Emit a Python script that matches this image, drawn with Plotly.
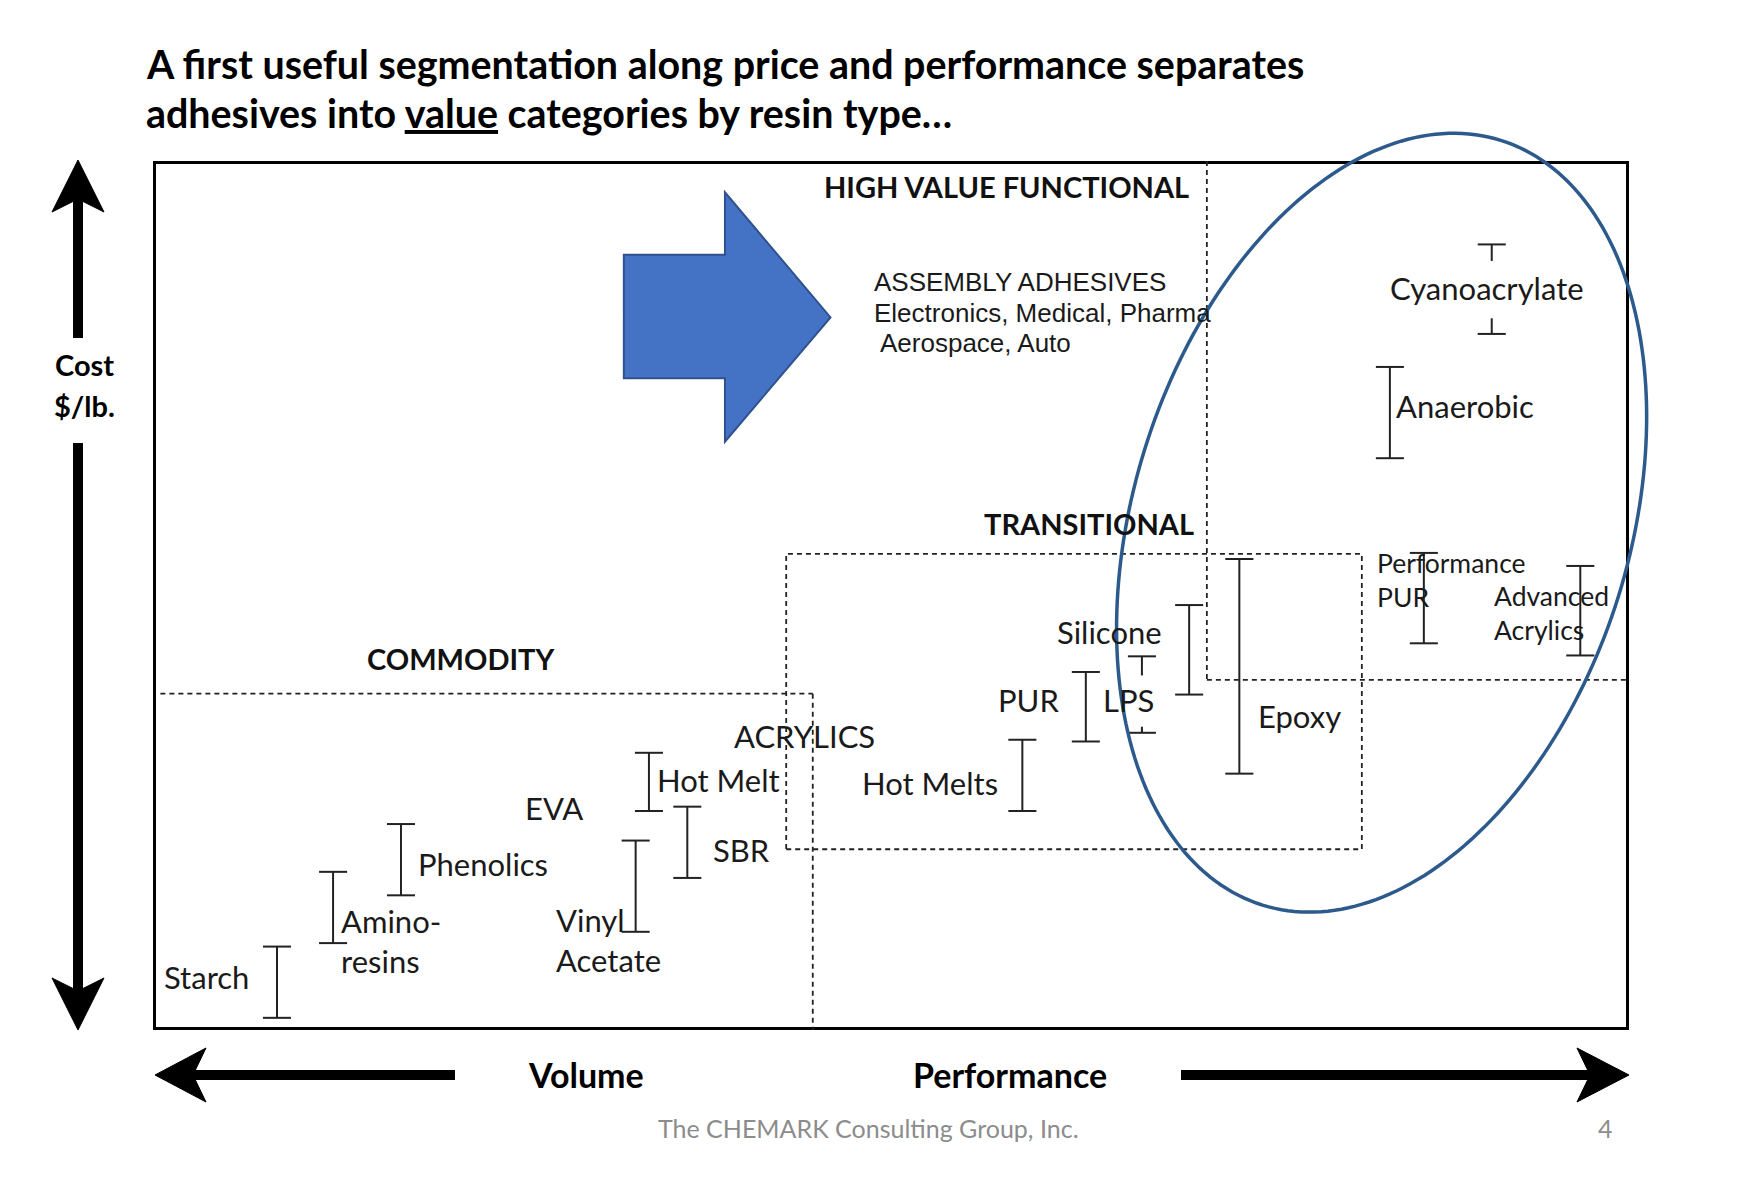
import numpy as np
import plotly.graph_objects as go

W, H = 1740, 1182
OFF = 8  # page body margin in the browser

# ---------------- data (x: performance position 0-100 across the frame, y: cost index 0-100) ----
resins = ["Starch", "Amino-resins", "Phenolics", "Vinyl Acetate", "Hot Melt", "SBR",
          "Hot Melts", "PUR", "LPS", "Silicone", "Epoxy", "Performance PUR",
          "Advanced Acrylics", "Anaerobic", "Cyanoacrylate"]
performance = [8.4, 12.2, 16.8, 32.7, 33.6, 36.2, 58.9, 63.2, 67.0, 70.2, 73.6, 86.1, 96.7, 83.8, 90.7]
cost_low = [1.4, 10.0, 15.5, 11.3, 25.2, 17.5, 25.2, 33.2, 34.2, 38.6, 29.5, 44.5, 43.1, 65.8, 80.1]
cost_high = [9.6, 18.2, 23.7, 21.8, 31.9, 25.7, 33.4, 41.2, 43.0, 48.9, 54.2, 54.9, 53.4, 76.3, 90.4]
# bars whose stem is interrupted by their label (cost range of the gap)
bar_gaps = {"LPS": (34.9, 40.8), "Cyanoacrylate": (81.9, 88.5)}

# labels
label_text = ["Starch", "Amino-<br>resins", "Phenolics", "EVA", "Vinyl<br>Acetate", "Hot Melt", "SBR",
              "ACRYLICS", "Hot Melts", "PUR", "LPS", "Silicone", "Epoxy",
              "Performance<br>PUR", "Advanced<br>Acrylics", "Anaerobic", "Cyanoacrylate"]
label_x = [0.6, 12.6, 17.8, 25.1, 27.2, 34.0, 37.8, 39.2, 57.4, 61.5, 64.2, 61.1, 74.7, 82.8, 90.7, 84.1, 90.4]
label_y = [6.1, 10.2, 19.1, 25.6, 10.4, 28.8, 20.7, 33.8, 28.4, 38.0, 38.0, 45.8, 36.1, 51.8, 48.0, 71.8, 85.4]
label_anchor = ["left", "left", "left", "left", "left", "left", "left", "left", "right", "right",
                "left", "left", "left", "left", "left", "left", "center"]
label_small = ["Performance<br>PUR", "Advanced<br>Acrylics"]

# segment titles
segments = ["HIGH VALUE FUNCTIONAL", "TRANSITIONAL", "COMMODITY"]
segment_x = [57.8, 63.4, 20.8]
segment_y = [97.1, 58.3, 42.8]

# applications note
note_lines = ["ASSEMBLY ADHESIVES", "Electronics, Medical, Pharma", "Aerospace, Auto"]
note_x = [48.7, 48.7, 49.1]
note_y = [86.1, 82.5, 79.1]

# segment boundaries (dashed)
commodity_box = dict(x_right=44.7, y_top=38.7)
transitional_box = dict(x0=42.9, x1=81.9, y0=20.8, y1=54.8)
high_value_box = dict(x_left=71.4, y_bottom=40.3)

# ---------------- layout geometry ----------------
FX0, FX1, FY0, FY1 = 153, 1629, 161, 1030  # frame in screen pixels


def P(X, Y):
    return (X - OFF) / W, 1 - (Y - OFF) / H


fig = go.Figure()

# I-beam range bars
CAP = 0.95
xs, ys = [], []
for name, x, lo, hi in zip(resins, performance, cost_low, cost_high):
    xs += [x - CAP, x + CAP, None]
    ys += [hi, hi, None]
    if name in bar_gaps:
        g0, g1 = bar_gaps[name]
        xs += [x, x, None, x, x, None]
        ys += [hi, g1, None, g0, lo, None]
    else:
        xs += [x, x, None]
        ys += [hi, lo, None]
    xs += [x - CAP, x + CAP, None]
    ys += [lo, lo, None]
fig.add_trace(go.Scatter(x=xs, y=ys, mode="lines", line=dict(color="#222222", width=2),
                         hoverinfo="skip", showlegend=False))

shapes = []
# frame
shapes.append(dict(type="rect", xref="x", yref="y", x0=0, x1=100, y0=0, y1=100,
                   line=dict(color="black", width=6), layer="below"))
dash = dict(color="#222222", width=1.8, dash="5px,4px")
# commodity
shapes.append(dict(type="line", xref="x", yref="y", x0=0.5, x1=commodity_box["x_right"],
                   y0=commodity_box["y_top"], y1=commodity_box["y_top"], line=dash))
shapes.append(dict(type="line", xref="x", yref="y", x0=commodity_box["x_right"], x1=commodity_box["x_right"],
                   y0=commodity_box["y_top"], y1=0, line=dash))
# transitional
shapes.append(dict(type="rect", xref="x", yref="y", x0=transitional_box["x0"], x1=transitional_box["x1"],
                   y0=transitional_box["y0"], y1=transitional_box["y1"], line=dash))
# high value
shapes.append(dict(type="line", xref="x", yref="y", x0=high_value_box["x_left"], x1=high_value_box["x_left"],
                   y0=100, y1=high_value_box["y_bottom"], line=dash))
shapes.append(dict(type="line", xref="x", yref="y", x0=high_value_box["x_left"], x1=100,
                   y0=high_value_box["y_bottom"], y1=high_value_box["y_bottom"], line=dash))

# block arrow (data coords)
arrow_pts = [(31.9, 89.2), (38.75, 89.2), (38.75, 96.4), (45.9, 82.0), (38.75, 67.7), (38.75, 75.0), (31.9, 75.0)]
path = "M " + " L ".join(f"{a},{b}" for a, b in arrow_pts) + " Z"
shapes.append(dict(type="path", xref="x", yref="y", path=path, fillcolor="#4472C4",
                   line=dict(color="#2F528F", width=2)))

# ellipse (pixel geometry -> paper)
cx, cy, a, b, th = 1381.6, 522.7, 400.5, 248.0, np.radians(17.3)
t = np.linspace(0, 2 * np.pi, 241)
u = np.array([np.sin(th), -np.cos(th)])
v = np.array([np.cos(th), np.sin(th)])
EX = cx + a * np.cos(t) * u[0] + b * np.sin(t) * v[0]
EY = cy + a * np.cos(t) * u[1] + b * np.sin(t) * v[1]
epts = [P(X, Y) for X, Y in zip(EX, EY)]
epath = "M " + " L ".join(f"{p[0]:.5f},{p[1]:.5f}" for p in epts) + " Z"
shapes.append(dict(type="path", xref="paper", yref="paper", path=epath,
                   line=dict(color="#2D5A8C", width=3.5), layer="above"))


def poly(points, color="black"):
    pts = [P(X, Y) for X, Y in points]
    return dict(type="path", xref="paper", yref="paper",
                path="M " + " L ".join(f"{p[0]:.5f},{p[1]:.5f}" for p in pts) + " Z",
                fillcolor=color, line=dict(color=color, width=1))


def thick_line(x0, y0, x1, y1, w=10):
    (a0, b0), (a1, b1) = P(x0, y0), P(x1, y1)
    return dict(type="line", xref="paper", yref="paper", x0=a0, y0=b0, x1=a1, y1=b1,
                line=dict(color="black", width=w))


AX = 78
# vertical cost arrow
shapes.append(thick_line(AX, 195, AX, 338))
shapes.append(thick_line(AX, 443, AX, 995))
shapes.append(poly([(AX, 160), (AX + 26, 212), (AX, 199), (AX - 26, 212)]))
shapes.append(poly([(AX, 1030), (AX + 26, 978), (AX, 991), (AX - 26, 978)]))
# horizontal arrows
AY = 1075
shapes.append(thick_line(190, AY, 455, AY))
shapes.append(poly([(155, AY), (206, AY - 27), (193, AY), (206, AY + 27)]))
shapes.append(thick_line(1181, AY, 1594, AY))
shapes.append(poly([(1629, AY), (1577, AY - 27), (1590, AY), (1577, AY + 27)]))

annotations = []
FONT = "Lato, Calibri, sans-serif"
for txt, x, y, anc in zip(label_text, label_x, label_y, label_anchor):
    size = 26.5 if txt in label_small else 31
    annotations.append(dict(xref="x", yref="y", x=x, y=y, text=txt, showarrow=False,
                            xanchor=anc, yanchor="middle", align=anc if anc != "center" else "center",
                            font=dict(family=FONT, size=size, color="#1a1a1a")))
for txt, x, y in zip(segments, segment_x, segment_y):
    annotations.append(dict(xref="x", yref="y", x=x, y=y, text=f"<b>{txt}</b>", showarrow=False,
                            xanchor="center", yanchor="middle",
                            font=dict(family=FONT, size=29, color="#111111")))
for txt, x, y in zip(note_lines, note_x, note_y):
    annotations.append(dict(xref="x", yref="y", x=x, y=y, text=txt,
                            showarrow=False, xanchor="left", yanchor="middle",
                            font=dict(family="Liberation Sans, Arial, sans-serif", size=26, color="#1a1a1a")))


def pann(text, X, Y, size, anchor="center", color="black", bold=False, family=FONT):
    x, y = P(X, Y)
    annotations.append(dict(xref="paper", yref="paper", x=x, y=y, text=(f"<b>{text}</b>" if bold else text),
                            showarrow=False, xanchor=anchor, yanchor="middle",
                            font=dict(family=family, size=size, color=color)))


pann("A first useful segmentation along price and performance separates", 144, 63, 39.4, "left", bold=True)
pann("adhesives into <u>value</u> categories by resin type…", 144, 113, 39.4, "left", bold=True)
pann("Cost", 84, 365, 29, bold=True)
pann("$/lb.", 84, 406, 29, bold=True)
pann("Volume", 586, 1074, 34, bold=True)
pann("Performance", 1010, 1074, 34, bold=True)
pann("The CHEMARK Consulting Group, Inc.", 868, 1128, 25, color="#8c8c8c")
pann("4", 1605, 1128, 25, color="#8c8c8c")

fig.update_layout(
    width=W, height=H, margin=dict(l=0, r=0, t=0, b=0),
    paper_bgcolor="white", plot_bgcolor="white",
    xaxis=dict(domain=[(FX0 - OFF) / W, (FX1 - OFF) / W], range=[0, 100], visible=False, fixedrange=True),
    yaxis=dict(domain=[1 - (FY1 - OFF) / H, 1 - (FY0 - OFF) / H], range=[0, 100], visible=False, fixedrange=True),
    shapes=shapes, annotations=annotations, showlegend=False,
)
fig.write_html("out.html")
